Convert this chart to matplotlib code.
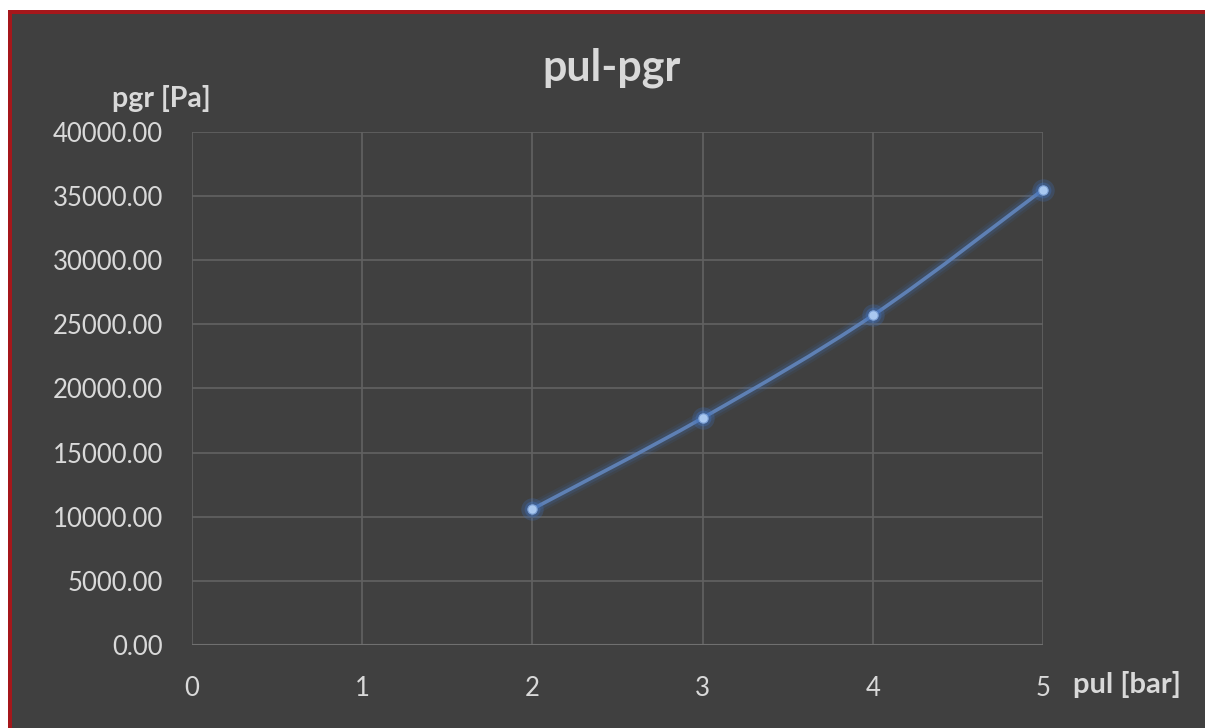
import numpy as np
import matplotlib
matplotlib.use("Agg")
import matplotlib.pyplot as plt
from matplotlib.path import Path
from matplotlib.patches import PathPatch, Rectangle

# data
pul = [2, 3, 4, 5]
pgr = [10600, 17700, 25700, 35500]
x_ticks = [0, 1, 2, 3, 4, 5]
y_ticks = [0, 5000, 10000, 15000, 20000, 25000, 30000, 35000, 40000]

BG = "#404040"
TXT = "#d9d9d9"
GRID = "#626262"

plt.rcParams['font.family'] = ['Lato', 'DejaVu Sans']

fig = plt.figure(figsize=(12.05, 7.28), dpi=100)
fig.patch.set_facecolor("white")
W, H = 1205, 728
# dark chart area with red frame on top / left
fig.patches.append(Rectangle((8 / W, 0), 1, 1 - 10 / H, transform=fig.transFigure,
                             facecolor=BG, edgecolor="none", zorder=-10))
fig.patches.append(Rectangle((8 / W, 1 - 14 / H), 1, 4 / H, transform=fig.transFigure,
                             facecolor="#a5171b", edgecolor="none", zorder=-9))
fig.patches.append(Rectangle((8 / W, 0), 4 / W, 1 - 10 / H, transform=fig.transFigure,
                             facecolor="#a5171b", edgecolor="none", zorder=-9))

ax = fig.add_axes([192 / W, 1 - 645 / H, (1043 - 192) / W, (645 - 132) / H])
ax.set_zorder(5)
ax.set_facecolor(BG)
ax.set_xlim(0, 5)
ax.set_ylim(0, 40000)
ax.set_xticks(x_ticks)
ax.set_yticks(y_ticks)
ax.set_yticklabels(["%.2f" % v for v in y_ticks])
ax.tick_params(length=0, colors=TXT, labelsize=18.5)
ax.tick_params(axis="y", pad=21)
ax.tick_params(axis="x", pad=22)
for s in ax.spines.values():
    s.set_visible(False)
ax.grid(True, color=GRID, linewidth=1.2)
ax.axhline(0, color="#707070", linewidth=1.5, zorder=2)

# smoothed line (Catmull-Rom style bezier through the points)
pts = np.column_stack([pul, pgr]).astype(float)
ext = np.vstack([pts[0], pts, pts[-1]])
verts = [tuple(pts[0])]
codes = [Path.MOVETO]
for i in range(len(pts) - 1):
    p0, p1, p2, p3 = ext[i], ext[i + 1], ext[i + 2], ext[i + 3]
    c1 = p1 + (p2 - p0) / 6
    c2 = p2 - (p3 - p1) / 6
    verts += [tuple(c1), tuple(c2), tuple(p2)]
    codes += [Path.CURVE4] * 3
path = Path(verts, codes)
for lw, a in [(10, 0.1), (6.5, 0.18)]:
    ax.add_patch(PathPatch(path, facecolor="none", edgecolor="#3f72c0", lw=lw,
                           alpha=a, zorder=3, capstyle="round"))
ax.add_patch(PathPatch(path, facecolor="none", edgecolor="#5e80b4", lw=2.6, zorder=4))
ax.scatter(pul, pgr, s=260, color="#3f72c0", alpha=0.25, zorder=5, linewidths=0,
           clip_on=False)
ax.scatter(pul, pgr, s=130, color="#3f72c0", alpha=0.35, zorder=5, linewidths=0,
           clip_on=False)
ax.scatter(pul, pgr, s=45, color="#a9c8f0", edgecolors="#7fa3d8", linewidths=0.8, zorder=6,
           clip_on=False)

fig.text(612 / W, 1 - 68 / H, "pul-pgr", ha="center", va="center",
         fontsize=31, fontweight="bold", color=TXT)
fig.text(161 / W, 1 - 98 / H, "pgr [Pa]", ha="center", va="center",
         fontsize=20.5, fontweight="bold", color=TXT)
fig.text(1127 / W, 1 - 684 / H, "pul [bar]", ha="center", va="center",
         fontsize=21, fontweight="bold", color=TXT)

fig.savefig("out.png", dpi=100, facecolor=fig.get_facecolor())
